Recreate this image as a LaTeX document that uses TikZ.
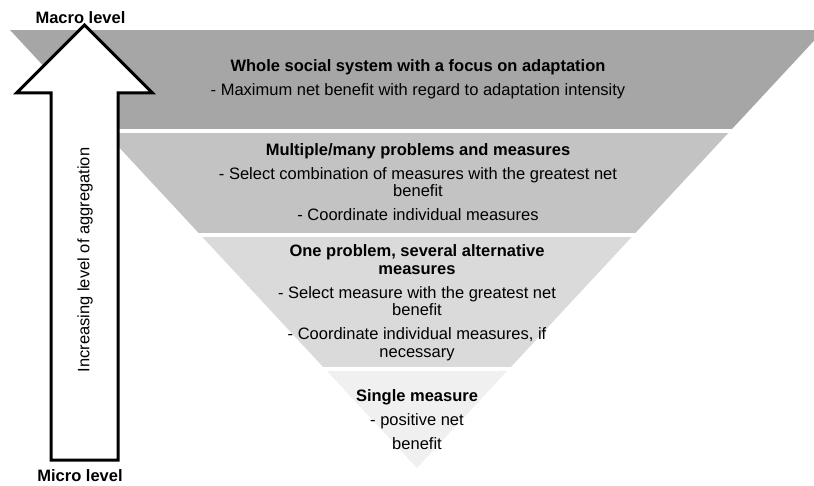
\documentclass[tikz,border=0pt]{standalone}
\usepackage{fontspec}
\setmainfont{Liberation Sans}
\usepackage{tikz}
\usetikzlibrary{positioning}
\tikzstyle{diagram} = [x = 1pt, y = -1pt]
\definecolor{levelOne}{RGB}{166,166,166}
\definecolor{levelTwo}{RGB}{195,195,195}
\definecolor{levelThree}{RGB}{218,218,218}
\definecolor{levelFour}{RGB}{240,240,240}
\tikzstyle{levelText} = [align=center, inner sep=0pt, font=\fontsize{16.5}{17.5}\selectfont]
\tikzstyle{endLabel} = [inner sep=0pt, font=\fontsize{16.5}{17.5}\selectfont\bfseries]
\tikzstyle{bigArrow} = [draw=black, fill=white, line width=3pt, miter limit=10]
\newcommand{\paraSkip}{\\[6.5pt]}
\newcommand{\levelBand}[3]{\fill [#3] (0, #1) rectangle (830, #2);}

\begin{document}
\begin{tikzpicture}[diagram]
  \useasboundingbox (0,0) rectangle (814,486);
  % inverted pyramid, cut into four levels
  \begin{scope}
    \clip (10,30) -- (824,30) -- (417,468) -- cycle;
    \levelBand{30}{129}{levelOne}
    \levelBand{133}{233}{levelTwo}
    \levelBand{237}{367}{levelThree}
    \levelBand{371}{470}{levelFour}
  \end{scope}
  \node [levelText] (systemLevel) at (418,79) {\textbf{Whole social system with a focus on adaptation}\paraSkip
    - Maximum net benefit with regard to adaptation intensity};
  \node [levelText] (manyLevel) at (418,182) {\textbf{Multiple/many problems and measures}\paraSkip
    - Select combination of measures with the greatest net\\ benefit\paraSkip
    - Coordinate individual measures};
  \node [levelText] (oneLevel) at (417,302.5) {\textbf{One problem, several alternative}\\ \textbf{measures}\paraSkip
    - Select measure with the greatest net\\ benefit\paraSkip
    - Coordinate individual measures, if\\ necessary};
  \node [levelText] (singleLevel) at (417,420) {\textbf{Single measure}\paraSkip
    - positive net\paraSkip benefit};
  % aggregation arrow
  \coordinate (arrowTip) at (84.5,25);
  \coordinate (arrowFoot) at (84.5,460);
  \draw [bigArrow] (51,460) -- (51,93) -- (16.5,93) -- (arrowTip) -- (152.5,93) -- (118,93) -- (118,460) -- cycle;
  \node [levelText, rotate=90] (arrowLabel) at (85,260) {Increasing level of aggregation};
  \node [endLabel] (macroLabel) at (80.5,18) {Macro level};
  \node [endLabel] (microLabel) at (80,475.5) {Micro level};
\end{tikzpicture}
\end{document}
